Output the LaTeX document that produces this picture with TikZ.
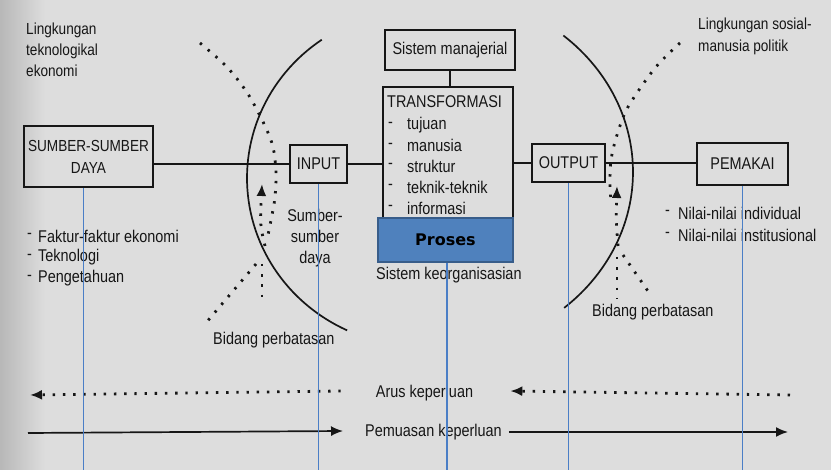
\documentclass[tikz,border=0pt]{standalone}
\usepackage{fontspec}
\setmainfont{Liberation Sans}[FakeStretch=0.85]
\newfontfamily\prosesfont{DejaVu Sans}
\usepackage{tikz}
\usetikzlibrary{arrows.meta}
\definecolor{kertas}{RGB}{221,221,221}
\definecolor{tinta}{RGB}{22,22,22}
\definecolor{garisbiru}{RGB}{74,126,198}
\definecolor{isiproses}{RGB}{79,129,189}
\definecolor{tepiproses}{RGB}{56,93,138}
\tikzstyle{teks}=[inner sep=0pt,text=tinta,font=\fontsize{17}{21}\selectfont]
\tikzstyle{kotak}=[teks,draw=tinta,line width=1.7pt]
\tikzstyle{garis}=[draw=tinta,line width=1.7pt]
\tikzstyle{bintik}=[draw=tinta,line width=2.8pt,dash pattern=on 2.4pt off 7.8pt]
\tikzstyle{biru}=[draw=garisbiru,line width=1.2pt]
\tikzstyle{proses}=[draw=tepiproses,fill=isiproses,line width=2.5pt,text=black,font=\prosesfont\bfseries\fontsize{16}{19}\selectfont]

\begin{document}
\begin{tikzpicture}[x=1pt,y=-1pt,>={Latex[length=12pt,width=10pt]}]
        \fill[kertas] (0,0) rectangle (831,470);
        \shade[left color=black!28,right color=kertas] (0,0) rectangle (45,470);
        \useasboundingbox (0,0) rectangle (831,470);
        \node[teks,align=left,anchor=north west,font=\fontsize{16}{21}\selectfont] (lingTek) at (26,23) {Lingkungan\\teknologikal\\ekonomi};
        \node[teks,align=left,anchor=north west,font=\fontsize{16}{22}\selectfont] (lingSos) at (698,18) {Lingkungan sosial-\\manusia politik};
        \node[kotak,minimum width=129pt,minimum height=61pt,align=center,font=\fontsize{16}{22}\selectfont] (sumber) at (88.5,156.5) {SUMBER-SUMBER\\DAYA};
        \node[kotak,minimum width=57pt,minimum height=38pt] (input) at (318.5,164) {INPUT};
        \node[kotak,minimum width=130pt,minimum height=40pt] (manajerial) at (450,50) {Sistem manajerial};
        \node[kotak,minimum width=130pt,minimum height=153pt] (transformasi) at (448,163.5) {};
        \node[kotak,minimum width=73pt,minimum height=38pt] (output) at (568.5,163) {OUTPUT};
        \node[kotak,minimum width=91pt,minimum height=42pt] (pemakai) at (742.5,164) {PEMAKAI};
        \node[teks,anchor=west] (judulTrans) at (387,102) {TRANSFORMASI};
        \foreach \isi [count=\i] in {tujuan,manusia,struktur,teknik-teknik,informasi}{
          \node[teks,anchor=west] (strip\i) at (388,104+20.8*\i) {-};
          \node[teks,anchor=west] (trans\i) at (407,104+20.8*\i) {\isi};
        }
        \node[proses,minimum width=135pt,minimum height=44pt] (proses) at (445.5,240) {Proses};
        \node[teks,anchor=west] (organisasi) at (376,275) {Sistem keorganisasian};
        \node[teks,align=center] (sumberDaya) at (315,238) {Sumber-\\sumber\\daya};
        \node[teks,anchor=west] (strip6) at (27,236) {-};
        \node[teks,anchor=west] (faktor1) at (38,236) {Faktur-faktur ekonomi};
        \node[teks,anchor=west] (strip7) at (27,257) {-};
        \node[teks,anchor=west] (faktor2) at (38,257) {Teknologi};
        \node[teks,anchor=west] (strip8) at (27,278) {-};
        \node[teks,anchor=west] (faktor3) at (38,278) {Pengetahuan};
        \node[teks,anchor=west] (strip9) at (665,213) {-};
        \node[teks,anchor=west] (nilai1) at (678,213) {Nilai-nilai individual};
        \node[teks,anchor=west] (strip10) at (665,235) {-};
        \node[teks,anchor=west] (nilai2) at (678,235) {Nilai-nilai institusional};
        \node[teks,anchor=west] (batasKiri) at (213,340) {Bidang perbatasan};
        \node[teks,anchor=west] (batasKanan) at (592,312) {Bidang perbatasan};
        \node[teks] (arus) at (424.5,393) {Arus keperluan};
        \node[teks] (pemuasan) at (433.5,432) {Pemuasan keperluan};
        \draw[garis] (input.west) -- (input.west -| sumber.east);
        \draw[garis] (input.east) -- (input.east -| transformasi.west);
        \draw[garis] (manajerial.south) -- (manajerial.south |- transformasi.north);
        \draw[garis] (output.west) -- (output.west -| transformasi.east);
        \draw[garis] (output.east) -- (output.east -| pemakai.west);
        % bidang perbatasan
        \draw[garis] plot[domain=114.9:235.4,samples=60,variable=\t] ({420+173*cos(\t)},{178+168*sin(\t)});
        \draw[garis] plot[domain=-49.3:49,samples=60,variable=\t] ({433+200*cos(\t)},{172+180*sin(\t)});
        \draw[bintik] plot[smooth] coordinates {(200,43) (227,67) (248,94) (265,126) (273,147) (276,172) (275,197) (272,215) (267,240)};
        \draw[bintik,->] (265,246) .. controls (260,225) .. (262,184);
        \draw[bintik] (256,264) -- (205,324);
        \draw[bintik] (262,264) -- (262,300);
        \draw[bintik] plot[smooth] coordinates {(680,43) (655,68) (628,107) (617,135) (611,160) (610,185) (611,200)};
        \draw[bintik,->] (618,246) .. controls (616,220) .. (617,186);
        \draw[bintik] (617,257) -- (617,298);
        \draw[bintik] (623,255) -- (650,294);
        \coordinate (kiriArus) at (30,395);
        \coordinate (kananArus) at (790,395);
        \coordinate (kiriPuas) at (28,433);
        \coordinate (kananPuas) at (788,432);
        \draw[bintik,->] ([xshift=-35pt,yshift=2pt]arus.west) -- (kiriArus);
        \draw[bintik,->] (kananArus) -- ([xshift=37pt,yshift=2pt]arus.east);
        \draw[garis,->] (kiriPuas) -- ([xshift=-22pt,yshift=1pt]pemuasan.west);
        \draw[garis,->] ([xshift=7pt]pemuasan.east) -- (kananPuas);
        \coordinate (dasar) at (0,470);
        \draw[biru] ([xshift=-5pt]sumber.south) -- ([xshift=-5pt]sumber.south |- dasar);
        \draw[biru] (input.south) -- (input.south |- dasar);
        \draw[biru] ([xshift=1.5pt]proses.south) -- ([xshift=1.5pt]proses.south |- dasar);
        \draw[biru] (output.south) -- (output.south |- dasar);
        \draw[biru] (pemakai.south) -- (pemakai.south |- dasar);
\end{tikzpicture}
\end{document}
